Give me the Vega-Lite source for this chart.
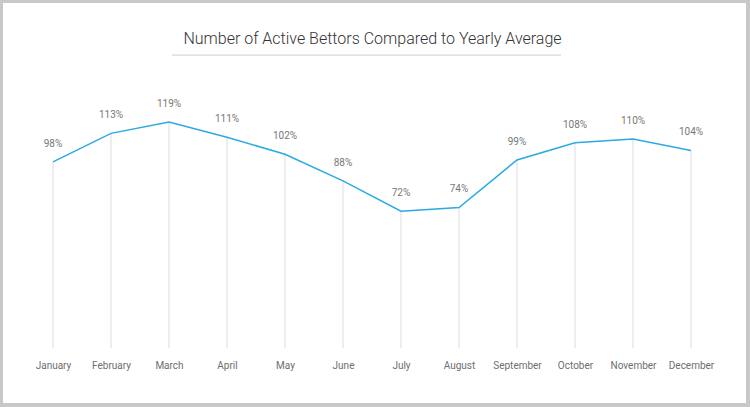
{
  "$schema": "https://vega.github.io/schema/vega-lite/v6.json",
  "width": 743,
  "height": 400,
  "autosize": {"type": "none"},
  "padding": {"left": 3, "top": 3, "right": 4, "bottom": 4},
  "background": "#c8c8c8",
  "config": {"view": {"fill": "white", "stroke": null}, "font": "Roboto"},
  "title": {
    "text": "Number of Active Bettors Compared to Yearly Average",
    "font": "Roboto",
    "fontWeight": 300,
    "fontSize": 16,
    "color": "#333333",
    "anchor": "middle",
    "offset": -44,
    "dx": -2
  },
  "data": {
    "values": [
      {"month": "January", "pct": 0.98},
      {"month": "February", "pct": 1.13},
      {"month": "March", "pct": 1.19},
      {"month": "April", "pct": 1.11},
      {"month": "May", "pct": 1.02},
      {"month": "June", "pct": 0.88},
      {"month": "July", "pct": 0.72},
      {"month": "August", "pct": 0.74},
      {"month": "September", "pct": 0.99},
      {"month": "October", "pct": 1.08},
      {"month": "November", "pct": 1.10},
      {"month": "December", "pct": 1.04}
    ]
  },
  "layer": [
    {
      "mark": {"type": "rule", "color": "#dddddd", "strokeWidth": 1, "xOffset": -2.5},
      "encoding": {
        "x": {
          "field": "month",
          "type": "ordinal",
          "scale": {
            "type": "point",
            "padding": 0.905,
            "domain": ["January", "February", "March", "April", "May", "June", "July", "August", "September", "October", "November", "December"]
          },
          "axis": {
            "orient": "bottom",
            "offset": -55,
            "domain": false,
            "ticks": false,
            "grid": false,
            "labelPadding": 12,
            "labelOffset": -2.5,
            "labelFontSize": 10,
            "labelColor": "#6e6e6e",
            "labelFont": "Roboto",
            "labelAngle": 0,
            "title": null
          }
        },
        "y": {"field": "pct", "type": "quantitative", "scale": {"domain": [-0.289, 1.816], "nice": false, "zero": false}, "axis": null},
        "y2": {"datum": 0}
      }
    },
    {
      "mark": {"type": "line", "color": "#2aaae2", "strokeWidth": 1.5, "xOffset": -2.5},
      "encoding": {
        "x": {"field": "month", "type": "ordinal"},
        "y": {"field": "pct", "type": "quantitative"}
      }
    },
    {
      "mark": {"type": "text", "dy": -18, "xOffset": -2.5, "fontSize": 10, "color": "#777777", "font": "Roboto", "baseline": "middle"},
      "encoding": {
        "x": {"field": "month", "type": "ordinal"},
        "y": {"field": "pct", "type": "quantitative"},
        "text": {"field": "pct", "type": "quantitative", "format": ".0%"}
      }
    },
    {
      "data": {"values": [{"start": "March", "end": "September", "level": 1.542}]},
      "mark": {"type": "rule", "color": "#cccccc", "strokeWidth": 1, "xOffset": 0.5, "x2Offset": 41.5},
      "encoding": {
        "x": {"field": "start", "type": "ordinal"},
        "x2": {"field": "end"},
        "y": {"field": "level", "type": "quantitative"}
      }
    }
  ]
}
